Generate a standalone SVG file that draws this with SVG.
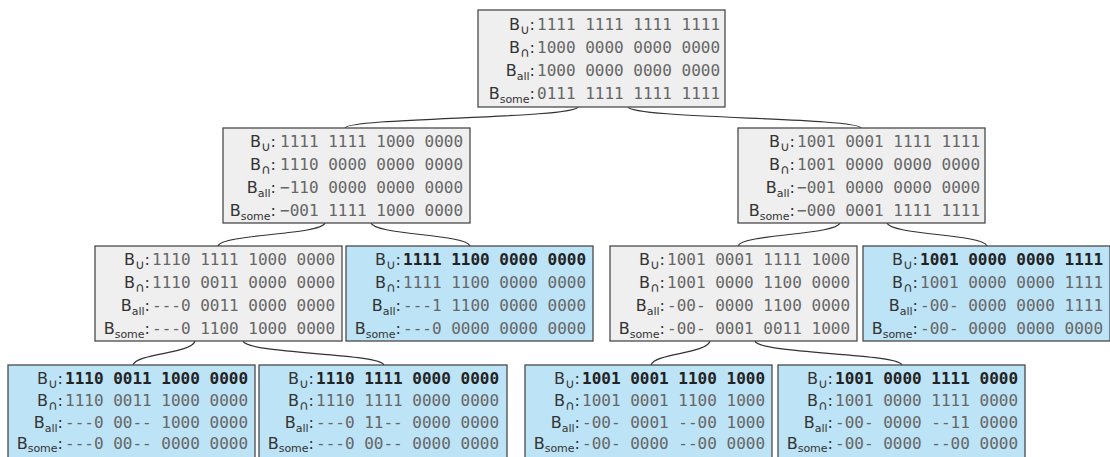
<svg xmlns="http://www.w3.org/2000/svg" width="1110" height="457" viewBox="0 0 1110 457">
<style>
.box{fill:#efefef;stroke:#4a4a4a;stroke-width:1.3}
.leaf{fill:#bde3f6;stroke:#4a4a4a;stroke-width:1.3}
.lb{font-family:"DejaVu Sans",sans-serif;font-size:16px;fill:#333;text-anchor:end}
.sub{font-size:11px}
.sym{font-size:13px}
.bits{font-family:"DejaVu Sans Mono",monospace;font-size:16px;fill:#666}
.bold{font-weight:bold;fill:#222}
.con path{fill:none;stroke:#333;stroke-width:1.2}
</style>
<g class="con" id="connectors">
<path d="M578,107 C574,118.5 349,117.5 345,128"/>
<path d="M628,107 C632,118.5 857,117.5 861,128"/>
<path d="M325,223 C321,235 222,234 218,246"/>
<path d="M371,223 C375,235 466,234 470,246"/>
<path d="M840,223 C836,235 742,234 738,246"/>
<path d="M887,223 C891,235 983,234 987,246"/>
<path d="M195,341 C191,354 137,353 133,365"/>
<path d="M243,341 C247,354 380,353 384,365"/>
<path d="M710,341 C706,354 655,353 651,365"/>
<path d="M755,341 C759,354 898,353 902,365"/>
</g>
<g id="root">
<rect class="box" x="478" y="10" width="247" height="97"/>
<text class="lb" x="535" y="30">B<tspan class="sym" dy="4">∪</tspan><tspan dy="-4">:</tspan></text>
<text class="bits" x="537" y="30">1111 1111 1111 1111</text>
<text class="lb" x="535" y="53">B<tspan class="sym" dy="4">∩</tspan><tspan dy="-4">:</tspan></text>
<text class="bits" x="537" y="53">1000 0000 0000 0000</text>
<text class="lb" x="535" y="76">B<tspan class="sub" dy="4">all</tspan><tspan dy="-4">:</tspan></text>
<text class="bits" x="537" y="76">1000 0000 0000 0000</text>
<text class="lb" x="535" y="99">B<tspan class="sub" dy="4">some</tspan><tspan dy="-4">:</tspan></text>
<text class="bits" x="537" y="99">0111 1111 1111 1111</text>
</g>
<g id="n2l">
<rect class="box" x="223" y="128" width="247" height="95"/>
<text class="lb" x="276" y="147">B<tspan class="sym" dy="4">∪</tspan><tspan dy="-4">:</tspan></text>
<text class="bits" x="280" y="147">1111 1111 1000 0000</text>
<text class="lb" x="276" y="170">B<tspan class="sym" dy="4">∩</tspan><tspan dy="-4">:</tspan></text>
<text class="bits" x="280" y="170">1110 0000 0000 0000</text>
<text class="lb" x="276" y="193">B<tspan class="sub" dy="4">all</tspan><tspan dy="-4">:</tspan></text>
<text class="bits" x="280" y="193">−110 0000 0000 0000</text>
<text class="lb" x="276" y="216">B<tspan class="sub" dy="4">some</tspan><tspan dy="-4">:</tspan></text>
<text class="bits" x="280" y="216">−001 1111 1000 0000</text>
</g>
<g id="n2r">
<rect class="box" x="738" y="128" width="247" height="95"/>
<text class="lb" x="795" y="147">B<tspan class="sym" dy="4">∪</tspan><tspan dy="-4">:</tspan></text>
<text class="bits" x="797" y="147">1001 0001 1111 1111</text>
<text class="lb" x="795" y="170">B<tspan class="sym" dy="4">∩</tspan><tspan dy="-4">:</tspan></text>
<text class="bits" x="797" y="170">1001 0000 0000 0000</text>
<text class="lb" x="795" y="193">B<tspan class="sub" dy="4">all</tspan><tspan dy="-4">:</tspan></text>
<text class="bits" x="797" y="193">−001 0000 0000 0000</text>
<text class="lb" x="795" y="216">B<tspan class="sub" dy="4">some</tspan><tspan dy="-4">:</tspan></text>
<text class="bits" x="797" y="216">−000 0001 1111 1111</text>
</g>
<g id="n3a">
<rect class="box" x="95" y="246" width="247" height="95"/>
<text class="lb" x="150" y="265">B<tspan class="sym" dy="4">∪</tspan><tspan dy="-4">:</tspan></text>
<text class="bits" x="152" y="265">1110 1111 1000 0000</text>
<text class="lb" x="150" y="288">B<tspan class="sym" dy="4">∩</tspan><tspan dy="-4">:</tspan></text>
<text class="bits" x="152" y="288">1110 0011 0000 0000</text>
<text class="lb" x="150" y="311">B<tspan class="sub" dy="4">all</tspan><tspan dy="-4">:</tspan></text>
<text class="bits" x="152" y="311">---0 0011 0000 0000</text>
<text class="lb" x="150" y="334">B<tspan class="sub" dy="4">some</tspan><tspan dy="-4">:</tspan></text>
<text class="bits" x="152" y="334">---0 1100 1000 0000</text>
</g>
<g id="n3b">
<rect class="leaf" x="346" y="246" width="247" height="95"/>
<text class="lb" x="401" y="265">B<tspan class="sym" dy="4">∪</tspan><tspan dy="-4">:</tspan></text>
<text class="bits bold" x="403" y="265">1111 1100 0000 0000</text>
<text class="lb" x="401" y="288">B<tspan class="sym" dy="4">∩</tspan><tspan dy="-4">:</tspan></text>
<text class="bits" x="403" y="288">1111 1100 0000 0000</text>
<text class="lb" x="401" y="311">B<tspan class="sub" dy="4">all</tspan><tspan dy="-4">:</tspan></text>
<text class="bits" x="403" y="311">---1 1100 0000 0000</text>
<text class="lb" x="401" y="334">B<tspan class="sub" dy="4">some</tspan><tspan dy="-4">:</tspan></text>
<text class="bits" x="403" y="334">---0 0000 0000 0000</text>
</g>
<g id="n3c">
<rect class="box" x="610" y="246" width="247" height="95"/>
<text class="lb" x="665" y="265">B<tspan class="sym" dy="4">∪</tspan><tspan dy="-4">:</tspan></text>
<text class="bits" x="667" y="265">1001 0001 1111 1000</text>
<text class="lb" x="665" y="288">B<tspan class="sym" dy="4">∩</tspan><tspan dy="-4">:</tspan></text>
<text class="bits" x="667" y="288">1001 0000 1100 0000</text>
<text class="lb" x="665" y="311">B<tspan class="sub" dy="4">all</tspan><tspan dy="-4">:</tspan></text>
<text class="bits" x="667" y="311">-00- 0000 1100 0000</text>
<text class="lb" x="665" y="334">B<tspan class="sub" dy="4">some</tspan><tspan dy="-4">:</tspan></text>
<text class="bits" x="667" y="334">-00- 0001 0011 1000</text>
</g>
<g id="n3d">
<rect class="leaf" x="863" y="246" width="247" height="95"/>
<text class="lb" x="918" y="265">B<tspan class="sym" dy="4">∪</tspan><tspan dy="-4">:</tspan></text>
<text class="bits bold" x="920" y="265">1001 0000 0000 1111</text>
<text class="lb" x="918" y="288">B<tspan class="sym" dy="4">∩</tspan><tspan dy="-4">:</tspan></text>
<text class="bits" x="920" y="288">1001 0000 0000 1111</text>
<text class="lb" x="918" y="311">B<tspan class="sub" dy="4">all</tspan><tspan dy="-4">:</tspan></text>
<text class="bits" x="920" y="311">-00- 0000 0000 1111</text>
<text class="lb" x="918" y="334">B<tspan class="sub" dy="4">some</tspan><tspan dy="-4">:</tspan></text>
<text class="bits" x="920" y="334">-00- 0000 0000 0000</text>
</g>
<g id="n4a">
<rect class="leaf" x="8" y="365" width="247" height="95"/>
<text class="lb" x="63" y="384">B<tspan class="sym" dy="4">∪</tspan><tspan dy="-4">:</tspan></text>
<text class="bits bold" x="65" y="384">1110 0011 1000 0000</text>
<text class="lb" x="63" y="406">B<tspan class="sym" dy="4">∩</tspan><tspan dy="-4">:</tspan></text>
<text class="bits" x="65" y="406">1110 0011 1000 0000</text>
<text class="lb" x="63" y="428">B<tspan class="sub" dy="4">all</tspan><tspan dy="-4">:</tspan></text>
<text class="bits" x="65" y="428">---0 00-- 1000 0000</text>
<text class="lb" x="63" y="449">B<tspan class="sub" dy="3">some</tspan><tspan dy="-3">:</tspan></text>
<text class="bits" x="65" y="449">---0 00-- 0000 0000</text>
</g>
<g id="n4b">
<rect class="leaf" x="259" y="365" width="248" height="95"/>
<text class="lb" x="314" y="384">B<tspan class="sym" dy="4">∪</tspan><tspan dy="-4">:</tspan></text>
<text class="bits bold" x="316" y="384">1110 1111 0000 0000</text>
<text class="lb" x="314" y="406">B<tspan class="sym" dy="4">∩</tspan><tspan dy="-4">:</tspan></text>
<text class="bits" x="316" y="406">1110 1111 0000 0000</text>
<text class="lb" x="314" y="428">B<tspan class="sub" dy="4">all</tspan><tspan dy="-4">:</tspan></text>
<text class="bits" x="316" y="428">---0 11-- 0000 0000</text>
<text class="lb" x="314" y="449">B<tspan class="sub" dy="3">some</tspan><tspan dy="-3">:</tspan></text>
<text class="bits" x="316" y="449">---0 00-- 0000 0000</text>
</g>
<g id="n4c">
<rect class="leaf" x="525" y="365" width="247" height="95"/>
<text class="lb" x="580" y="384">B<tspan class="sym" dy="4">∪</tspan><tspan dy="-4">:</tspan></text>
<text class="bits bold" x="582" y="384">1001 0001 1100 1000</text>
<text class="lb" x="580" y="406">B<tspan class="sym" dy="4">∩</tspan><tspan dy="-4">:</tspan></text>
<text class="bits" x="582" y="406">1001 0001 1100 1000</text>
<text class="lb" x="580" y="428">B<tspan class="sub" dy="4">all</tspan><tspan dy="-4">:</tspan></text>
<text class="bits" x="582" y="428">-00- 0001 --00 1000</text>
<text class="lb" x="580" y="449">B<tspan class="sub" dy="3">some</tspan><tspan dy="-3">:</tspan></text>
<text class="bits" x="582" y="449">-00- 0000 --00 0000</text>
</g>
<g id="n4d">
<rect class="leaf" x="778" y="365" width="247" height="95"/>
<text class="lb" x="833" y="384">B<tspan class="sym" dy="4">∪</tspan><tspan dy="-4">:</tspan></text>
<text class="bits bold" x="835" y="384">1001 0000 1111 0000</text>
<text class="lb" x="833" y="406">B<tspan class="sym" dy="4">∩</tspan><tspan dy="-4">:</tspan></text>
<text class="bits" x="835" y="406">1001 0000 1111 0000</text>
<text class="lb" x="833" y="428">B<tspan class="sub" dy="4">all</tspan><tspan dy="-4">:</tspan></text>
<text class="bits" x="835" y="428">-00- 0000 --11 0000</text>
<text class="lb" x="833" y="449">B<tspan class="sub" dy="3">some</tspan><tspan dy="-3">:</tspan></text>
<text class="bits" x="835" y="449">-00- 0000 --00 0000</text>
</g>
</svg>
